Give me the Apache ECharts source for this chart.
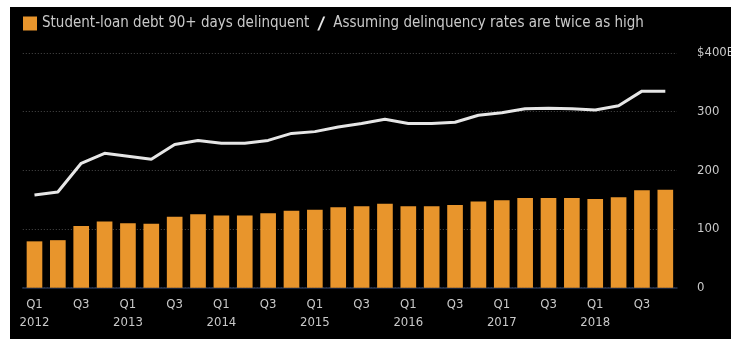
<!DOCTYPE html>
<html>
<head>
<meta charset="utf-8">
<script src="https://cdn.jsdelivr.net/npm/echarts@6/dist/echarts.min.js"></script>
<style>
  html, body { margin: 0; padding: 0; background: #ffffff; }
  #chart { position: absolute; left: 10px; top: 7px; width: 721px; height: 332px; background: #000000; }
</style>
</head>
<body>
<div id="chart"></div>
<script>
// Quarterly categories, 2012 Q1 – 2018 Q4
const quarters = [
  '2012 Q1','2012 Q2','2012 Q3','2012 Q4',
  '2013 Q1','2013 Q2','2013 Q3','2013 Q4',
  '2014 Q1','2014 Q2','2014 Q3','2014 Q4',
  '2015 Q1','2015 Q2','2015 Q3','2015 Q4',
  '2016 Q1','2016 Q2','2016 Q3','2016 Q4',
  '2017 Q1','2017 Q2','2017 Q3','2017 Q4',
  '2018 Q1','2018 Q2','2018 Q3','2018 Q4'
];

// Student-loan debt 90+ days delinquent ($B)
const delinquent = [
  79, 81, 105, 113, 110, 109, 121, 125,
  123, 123, 127, 131, 133, 137, 139, 143,
  139, 139, 141, 147, 149, 153, 153, 153,
  151, 154, 166, 167
];

// Assuming delinquency rates are twice as high ($B)
const doubled = [
  158, 163, 212, 229, 224, 219, 244, 251,
  246, 246, 251, 263, 266, 274, 280, 287,
  280, 280, 282, 294, 298, 305, 306, 305,
  303, 310, 335, 335
];

const yTicks = [0, 100, 200, 300, 400];

const textColor = '#c9c9c9';
const fontFamily = '"Liberation Sans Narrow", "DejaVu Sans Condensed", "Liberation Sans", sans-serif';

const chart = echarts.init(document.getElementById('chart'), null, { renderer: 'canvas' });

chart.setOption({
  backgroundColor: '#000000',
  animation: false,
  textStyle: { fontFamily: fontFamily },
  legend: {
    left: 8,
    top: 4,
    itemWidth: 14,
    itemHeight: 14,
    itemGap: 8,
    textStyle: { color: textColor, fontSize: 15, fontFamily: fontFamily },
    data: [
      { name: 'Student-loan debt 90+ days delinquent', icon: 'rect' },
      { name: 'Assuming delinquency rates are twice as high', icon: 'path://M0,14 L2,14 L8,0 L6,0 Z' }
    ]
  },
  grid: { left: 12.8, right: 54, top: 46, bottom: 51.3, outerBoundsMode: 'none' },
  xAxis: {
    type: 'category',
    data: quarters,
    boundaryGap: true,
    axisLine: { lineStyle: { color: '#25324f', width: 1.5 } },
    axisTick: {
      alignWithLabel: true,
      interval: 1,
      length: 4,
      lineStyle: { color: '#5d8fd0', width: 1 }
    },
    axisLabel: {
      interval: 1,
      color: textColor,
      fontSize: 13,
      lineHeight: 18,
      margin: 8,
      fontFamily: fontFamily,
      formatter: function (v) {
        const parts = v.split(' ');
        return parts[1] === 'Q1' ? 'Q1\n' + parts[0] : parts[1];
      }
    }
  },
  yAxis: {
    type: 'value',
    position: 'right',
    min: yTicks[0],
    max: yTicks[yTicks.length - 1],
    interval: 100,
    axisLine: { show: false },
    axisTick: { show: false },
    splitLine: { lineStyle: { color: '#4a4a4a', type: [1, 2], width: 1 } },
    axisLabel: {
      color: textColor,
      fontSize: 13,
      margin: 20,
      align: 'left',
      fontFamily: fontFamily,
      formatter: function (v) { return v === 400 ? '$400B' : String(v); }
    }
  },
  series: [
    {
      name: 'Student-loan debt 90+ days delinquent',
      type: 'bar',
      data: delinquent,
      barCategoryGap: '33%',
      itemStyle: { color: '#e8952c' }
    },
    {
      name: 'Assuming delinquency rates are twice as high',
      type: 'line',
      data: doubled,
      symbol: 'none',
      lineStyle: { color: '#e6e6e6', width: 3 },
      itemStyle: { color: '#e6e6e6' }
    }
  ]
});
</script>
</body>
</html>
